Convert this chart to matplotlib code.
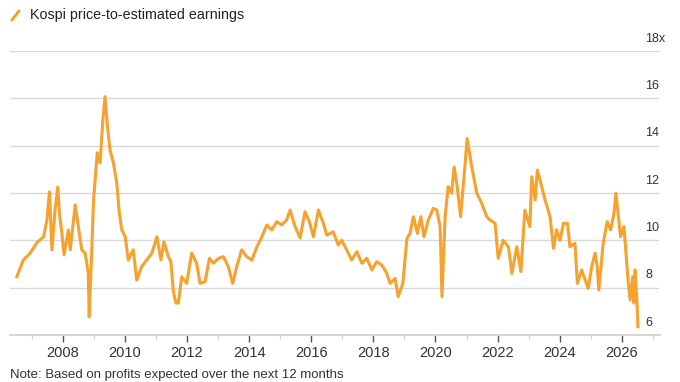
import numpy as np
import matplotlib.pyplot as plt
from matplotlib.lines import Line2D

plt.rcParams['font.family'] = ['Liberation Sans', 'DejaVu Sans']

# decimal year, forward P/E
years = [2006.52, 2006.73, 2006.95, 2007.16, 2007.38, 2007.49, 2007.57, 2007.65, 2007.75, 2007.84,
         2007.89, 2007.97, 2008.04, 2008.18, 2008.24, 2008.40, 2008.50, 2008.61, 2008.72, 2008.82,
         2008.85, 2008.93, 2008.99, 2009.11, 2009.20, 2009.29, 2009.36, 2009.44, 2009.52, 2009.63,
         2009.74, 2009.82, 2009.90, 2010.01, 2010.11, 2010.27, 2010.38, 2010.54, 2010.70, 2010.87,
         2011.03, 2011.16, 2011.26, 2011.40, 2011.48, 2011.56, 2011.64, 2011.72, 2011.83, 2011.99,
         2012.15, 2012.31, 2012.42, 2012.58, 2012.72, 2012.85, 2013.01, 2013.17, 2013.33, 2013.47,
         2013.60, 2013.76, 2013.92, 2014.09, 2014.25, 2014.41, 2014.57, 2014.73, 2014.89, 2015.05,
         2015.21, 2015.32, 2015.48, 2015.64, 2015.80, 2015.94, 2016.07, 2016.23, 2016.39, 2016.50,
         2016.71, 2016.87, 2016.98, 2017.14, 2017.30, 2017.47, 2017.63, 2017.79, 2017.95, 2018.11,
         2018.27, 2018.43, 2018.54, 2018.70, 2018.80, 2018.95, 2019.08, 2019.18, 2019.29, 2019.42,
         2019.53, 2019.63, 2019.77, 2019.93, 2020.04, 2020.15, 2020.21, 2020.31, 2020.41, 2020.52,
         2020.60, 2020.70, 2020.81, 2020.92, 2021.02, 2021.17, 2021.33, 2021.49, 2021.65, 2021.76,
         2021.92, 2022.02, 2022.18, 2022.35, 2022.46, 2022.62, 2022.75, 2022.88, 2023.04, 2023.10,
         2023.21, 2023.28, 2023.42, 2023.53, 2023.69, 2023.80, 2023.90, 2024.01, 2024.12, 2024.25,
         2024.33, 2024.49, 2024.57, 2024.71, 2024.82, 2024.92, 2025.03, 2025.14, 2025.21, 2025.26,
         2025.40, 2025.53, 2025.64, 2025.75, 2025.81, 2025.89, 2025.96, 2026.07, 2026.16, 2026.21,
         2026.27, 2026.35, 2026.39, 2026.43, 2026.48, 2026.52]
pe = [8.46, 9.17, 9.46, 9.89, 10.15, 10.86, 12.05, 9.60, 11.28, 12.25,
      11.15, 10.30, 9.38, 10.44, 9.60, 11.50, 10.58, 9.60, 9.46, 8.62,
      6.77, 9.46, 11.70, 13.70, 13.27, 15.08, 16.07, 14.80, 13.82, 13.27,
      12.40, 11.15, 10.44, 10.15, 9.17, 9.60, 8.32, 8.89, 9.17, 9.46,
      10.15, 9.17, 9.94, 9.31, 9.10, 7.85, 7.35, 7.35, 8.46, 8.18,
      9.46, 9.03, 8.18, 8.25, 9.24, 9.03, 9.24, 9.31, 8.89, 8.18,
      8.89, 9.60, 9.31, 9.17, 9.73, 10.15, 10.65, 10.44, 10.79, 10.65,
      10.86, 11.28, 10.58, 10.10, 11.21, 10.79, 10.15, 11.28, 10.72, 10.22,
      10.36, 9.80, 10.01, 9.60, 9.17, 9.52, 9.03, 9.24, 8.75, 9.10,
      8.96, 8.61, 8.18, 8.39, 7.62, 8.18, 10.08, 10.29, 11.00, 10.29,
      11.00, 10.15, 10.86, 11.35, 11.28, 10.58, 7.62, 11.00, 12.27, 11.99,
      13.10, 12.27, 11.00, 12.69, 14.30, 13.10, 12.00, 11.56, 11.00, 10.86,
      10.72, 9.24, 10.00, 9.73, 8.60, 9.73, 8.68, 11.28, 10.58, 12.69,
      11.70, 12.97, 12.27, 11.70, 11.00, 9.66, 10.44, 10.00, 10.72, 10.72,
      9.73, 9.87, 8.18, 8.75, 8.32, 7.97, 8.89, 9.46, 8.89, 7.90,
      9.87, 10.79, 10.44, 11.14, 11.99, 11.00, 10.15, 10.58, 9.03, 8.18,
      7.48, 8.46, 7.35, 8.75, 7.62, 6.35]

yticks = [6, 8, 10, 12, 14, 16, 18]
ytick_labels = ['6', '8', '10', '12', '14', '16', '18x']
xticks = list(range(2008, 2027, 2))

fig = plt.figure(figsize=(6.8, 3.82), dpi=100)
ax = fig.add_axes([10/680, 1-335/382, 650/680, (335-51)/382])

ax.plot(years, pe, color='#f7a12e', lw=2.2, solid_joinstyle='round')

ax.set_xlim(2006.30, 2027.23)
ax.set_ylim(6, 18)

for s in ['top', 'right', 'left']:
    ax.spines[s].set_visible(False)
ax.spines['bottom'].set_color('#d0d0d0')
ax.spines['bottom'].set_linewidth(1.2)

for v in yticks[1:]:
    ax.axhline(v, color='#d9d9d9', lw=1.0, xmax=648/650, zorder=0)
ax.set_yticks([])

for v, lab in zip(yticks, ytick_labels):
    ax.annotate(lab, xy=(2026.75, v), xytext=(0, 4.5), textcoords='offset points',
                ha='left', va='bottom', fontsize=9, color='#333333')

ax.set_xticks(xticks)
ax.set_xticklabels([str(y) for y in xticks], fontsize=10.5, color='#333333')
ax.set_xticks(list(range(2007, 2028, 2)), minor=True)
ax.tick_params(axis='x', which='major', length=5, width=1, color='#555555', pad=3)
ax.tick_params(axis='x', which='minor', length=3, width=0.8, color='#cccccc')

# title with small orange stroke
fig.add_artist(Line2D([12/680, 19/680], [1-20/382, 1-11/382], color='#f7a12e', lw=2.2,
                      solid_capstyle='round'))
fig.text(30/680, 1-15/382, 'Kospi price-to-estimated earnings', fontsize=10.3,
         color='#222222', ha='left', va='center')
fig.text(10/680, 1/382, 'Note: Based on profits expected over the next 12 months',
         fontsize=9.5, color='#333333', ha='left', va='bottom')

fig.savefig('out.png', dpi=100)
